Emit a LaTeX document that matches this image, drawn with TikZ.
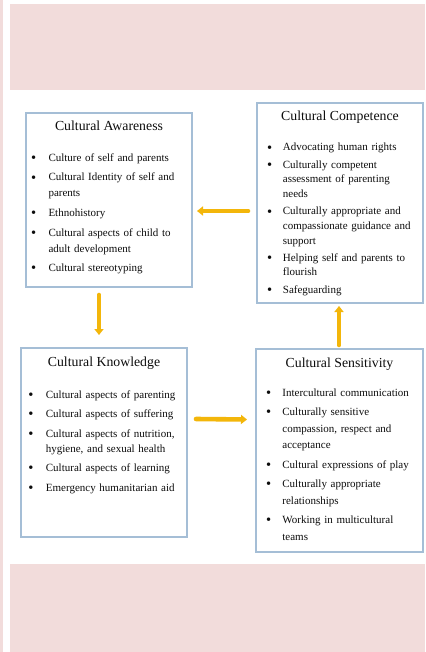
\documentclass[tikz,border=0pt]{standalone}
\usepackage{fontspec}
\setmainfont{Liberation Serif}
\usetikzlibrary{arrows.meta}
\definecolor{pinkbg}{HTML}{F2DCDB}
\definecolor{boxline}{HTML}{A5BED6}
\definecolor{arrgold}{HTML}{F3B60A}
\definecolor{txt}{HTML}{0D0D0D}
\newcommand\bitm[2]{\noindent\hangindent=#1pt\hangafter=1\makebox[#1pt][l]{\hspace{-0.6pt}\raisebox{-1.1pt}{\fontsize{14.5}{14.5}\selectfont\textbullet}}#2}
\newcommand\isep[1]{\par\vspace{#1pt}}
\tikzset{
  x={(1pt,0)}, y={(0,-1pt)},
  bg/.style={fill=pinkbg, draw=none},
  cbox/.style={draw=boxline, line width=1.1pt, fill=white, inner sep=0pt, outer sep=0pt},
  ttl/.style={anchor=base, inner sep=0pt, text=txt, font=\fontsize{13.8}{16}\selectfont},
  lst/.style={anchor=base west, inner sep=0pt, text=txt, text width=175pt},
  arr/.style={draw=arrgold, line width=4.6pt, line cap=round, -{Triangle[width=9pt,length=6pt]}}
}
\begin{document}
\begin{tikzpicture}
\useasboundingbox (0,0) rectangle (425,652);
\fill[white] (0,0) rectangle (425,652);
% background bands
\path[bg] (0,0) rectangle (3,652);
\path[bg] (10,4) rectangle (425,90.5);
\path[bg] (10,564) rectangle (425,652);
% boxes
\node[cbox, minimum width=166pt, minimum height=174pt] (aw) at (109,200) {};
\node[cbox, minimum width=166pt, minimum height=200pt] (cc) at (340,203) {};
\node[cbox, minimum width=166pt, minimum height=189pt] (kn) at (104,442.5) {};
\node[cbox, minimum width=167pt, minimum height=203pt] (se) at (339.5,450.5) {};
% titles
\node[ttl] (awT) at (109,131) {Cultural Awareness};
\node[ttl] (ccT) at (340,121) {Cultural Competence};
\node[ttl] (knT) at (104,366) {Cultural Knowledge};
\node[ttl] (seT) at (339.5,367) {Cultural Sensitivity};
% lists
\node[lst, font=\fontsize{11}{16}\selectfont] (awL) at (31.4,161.5) {\raggedright
\bitm{16.9}{Culture of self and parents}\isep{3.5}
\bitm{16.9}{Cultural Identity of self and\newline parents}\isep{3.5}
\bitm{16.9}{Ethnohistory}\isep{3.5}
\bitm{16.9}{Cultural aspects of child to\newline adult development}\isep{3.5}
\bitm{16.9}{Cultural stereotyping}\par};
\node[lst, font=\fontsize{11}{14.5}\selectfont] (ccL) at (267.4,151) {\raggedright
\bitm{15.3}{Advocating human rights}\isep{3}
\bitm{15.3}{Culturally competent\newline assessment of parenting\newline needs}\isep{3}
\bitm{15.3}{Culturally appropriate and\newline compassionate guidance and\newline support}\isep{3}
\bitm{15.3}{Helping self and parents to\newline flourish}\isep{3}
\bitm{15.3}{Safeguarding}\par};
\node[lst, font=\fontsize{11}{15}\selectfont] (knL) at (28.8,398) {\raggedright
\bitm{16.9}{Cultural aspects of parenting}\isep{4.5}
\bitm{16.9}{Cultural aspects of suffering}\isep{4.5}
\bitm{16.9}{Cultural aspects of nutrition,\newline hygiene, and sexual health}\isep{4.5}
\bitm{16.9}{Cultural aspects of learning}\isep{4.5}
\bitm{16.9}{Emergency humanitarian aid}\par};
\node[lst, font=\fontsize{11}{16.5}\selectfont] (seL) at (266.4,396) {\raggedright
\bitm{15.8}{Intercultural communication}\isep{3}
\bitm{15.8}{Culturally sensitive\newline compassion, respect and\newline acceptance}\isep{3}
\bitm{15.8}{Cultural expressions of play}\isep{3}
\bitm{15.8}{Culturally appropriate\newline relationships}\isep{3}
\bitm{15.8}{Working in multicultural\newline teams}\par};
% arrows
\draw[arr] ([shift={(-9,8)}]cc.west) -- ([shift={(5,11)}]aw.east);
\draw[arr] ([shift={(-10,8)}]aw.south) -- ([shift={(-5,-13)}]kn.north);
\draw[arr] ([shift={(9,-23.5)}]kn.east) -- ([shift={(-9,-31)}]se.west);
\draw[arr] ([shift={(-0.5,-4)}]se.north) -- ([shift={(-1,3)}]cc.south);
\end{tikzpicture}
\end{document}
